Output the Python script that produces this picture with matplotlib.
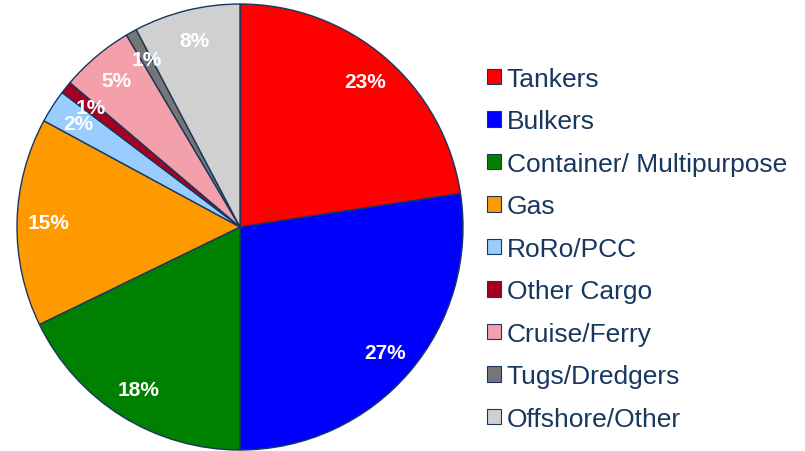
import matplotlib.pyplot as plt
from matplotlib.patches import Patch

# fleet share by ship type, %
categories = ["Tankers", "Bulkers", "Container/ Multipurpose", "Gas", "RoRo/PCC",
              "Other Cargo", "Cruise/Ferry", "Tugs/Dredgers", "Offshore/Other"]
shares = [22.6, 27.4, 17.8, 15.1, 2.4, 0.9, 5.3, 0.8, 7.7]
colors = ["#FF0000", "#0000FF", "#008000", "#FF9900", "#99CCFF",
          "#A50021", "#F4A0AA", "#767676", "#D0D0D0"]

edge = "#17375E"
W, H = 805, 452
fig = plt.figure(figsize=(W / 100, H / 100), dpi=100)

cx, cy, r = 240, 228, 223
ax = fig.add_axes([(cx - r) / W, (H - cy - r) / H, 2 * r / W, 2 * r / H])

wedges, texts, autotexts = ax.pie(
    shares, colors=colors, startangle=90, counterclock=False,
    autopct="%.0f%%", pctdistance=0.86,
    wedgeprops=dict(edgecolor=edge, linewidth=1.0),
    textprops=dict(color="white", fontsize=15, fontweight="bold",
                   family="Liberation Sans"),
)
ax.set_xlim(-1, 1)
ax.set_ylim(-1, 1)
ax.set_aspect("equal")
ax.axis("off")

handles = [Patch(facecolor=c, edgecolor=edge, linewidth=0.8) for c in colors]
leg = fig.legend(handles, categories, loc="upper left",
                 bbox_to_anchor=(487 / W, 1 - 68 / H),
                 frameon=False, prop=dict(family="Liberation Sans", size=19),
                 labelcolor=edge, handlelength=0.53, handleheight=0.53,
                 handletextpad=0.22, labelspacing=0.7, borderpad=0,
                 borderaxespad=0)

fig.savefig("out.png", dpi=100)
